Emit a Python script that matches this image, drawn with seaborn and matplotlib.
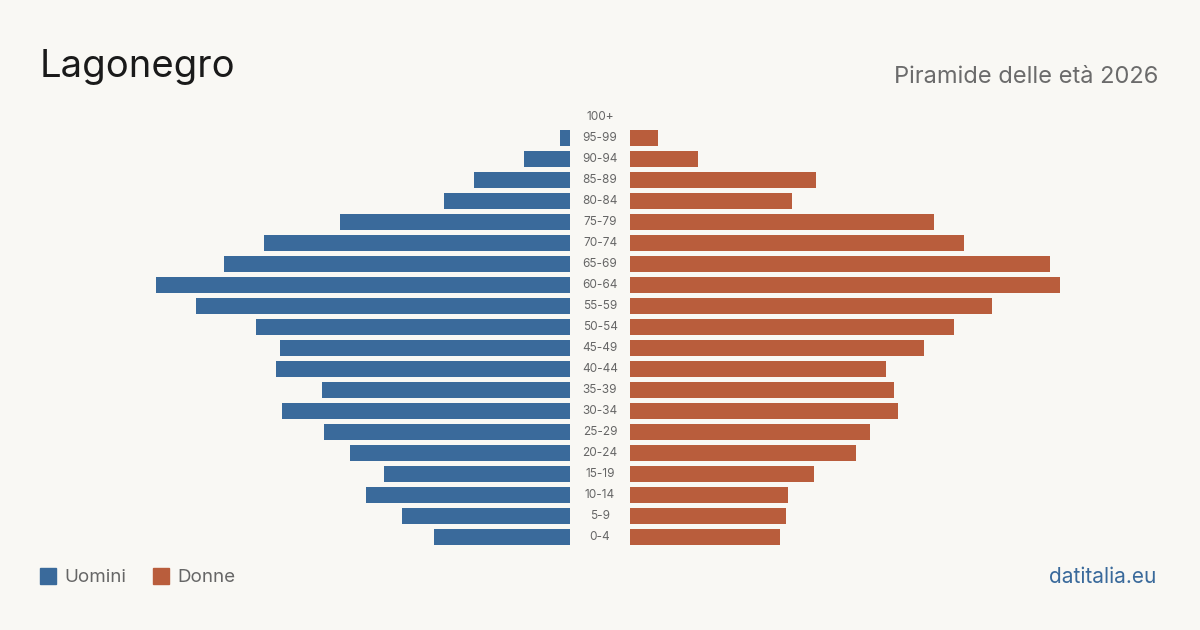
import numpy as np
import matplotlib.pyplot as plt
import matplotlib.transforms as mtransforms
from matplotlib.patches import Rectangle
import pandas as pd
import seaborn as sb

# age classes, top to bottom
eta = ["100+", "95-99", "90-94", "85-89", "80-84", "75-79", "70-74", "65-69",
       "60-64", "55-59", "50-54", "45-49", "40-44", "35-39", "30-34", "25-29",
       "20-24", "15-19", "10-14", "5-9", "0-4"]
uomini = [0, 5, 23, 48, 63, 115, 153, 173, 207, 187, 157, 145, 147, 124, 144,
          123, 110, 93, 102, 84, 68]
donne = [0, 14, 34, 93, 81, 152, 167, 210, 215, 181, 162, 147, 128, 132, 134,
         120, 113, 92, 79, 78, 75]

BLU = "#3a6a9b"
ARANCIO = "#b95d3c"
SFONDO = "#f9f8f4"

data = pd.DataFrame({"eta": eta, "Uomini": uomini, "Donne": donne})

sb.set_style("white")
plt.rcParams["font.family"] = ["Inter", "DejaVu Sans"]

fig = plt.figure(figsize=(12, 6.3), dpi=100, facecolor=SFONDO)
bottom, height = 1 - 547.5 / 630, 0.7
lim = 265
ax_l = fig.add_axes([40 / 1200, bottom, 530 / 1200, height])
ax_r = fig.add_axes([630 / 1200, bottom, 530 / 1200, height])

sb.barplot(data=data, y="eta", x="Uomini", orient="h", color=BLU,
           width=0.8, saturation=1, linewidth=0, ax=ax_l)
sb.barplot(data=data, y="eta", x="Donne", orient="h", color=ARANCIO,
           width=0.8, saturation=1, linewidth=0, ax=ax_r)

ax_l.set_xlim(lim, 0)
ax_r.set_xlim(0, lim)
for ax in (ax_l, ax_r):
    ax.set_facecolor(SFONDO)
    ax.set_xlabel("")
    ax.set_ylabel("")
    ax.set_xticks([])
    ax.set_yticks([])
    ax.set_ylim(len(eta) - 0.5, -0.5)
    sb.despine(ax=ax, left=True, bottom=True)

# age labels in the middle
trans = mtransforms.blended_transform_factory(fig.transFigure, ax_l.transData)
for i, lab in enumerate(eta):
    fig.text(0.5, i, lab, transform=trans, ha="center", va="center",
             fontsize=8.5, color="#666666")

fig.text(40 / 1200, 1 - 67 / 630, "Lagonegro", fontsize=27.5, color="#1a1a1a",
         va="center", ha="left")
fig.text(1158 / 1200, 1 - 77 / 630, "Piramide delle età 2026", fontsize=17,
         color="#6b6b6b", va="center", ha="right")

# legend
for x0, col, lab in [(40, BLU, "Uomini"), (153, ARANCIO, "Donne")]:
    fig.patches.append(Rectangle((x0 / 1200, 1 - 584 / 630), 16 / 1200, 16 / 630,
                                 transform=fig.transFigure, color=col))
    fig.text((x0 + 24) / 1200, 1 - 577 / 630, lab, fontsize=13.5,
             color="#666666", va="center", ha="left")

fig.text(1156 / 1200, 1 - 577 / 630, "datitalia.eu", fontsize=15, color=BLU,
         va="center", ha="right")

fig.savefig("out.png", dpi=100, facecolor=SFONDO)
